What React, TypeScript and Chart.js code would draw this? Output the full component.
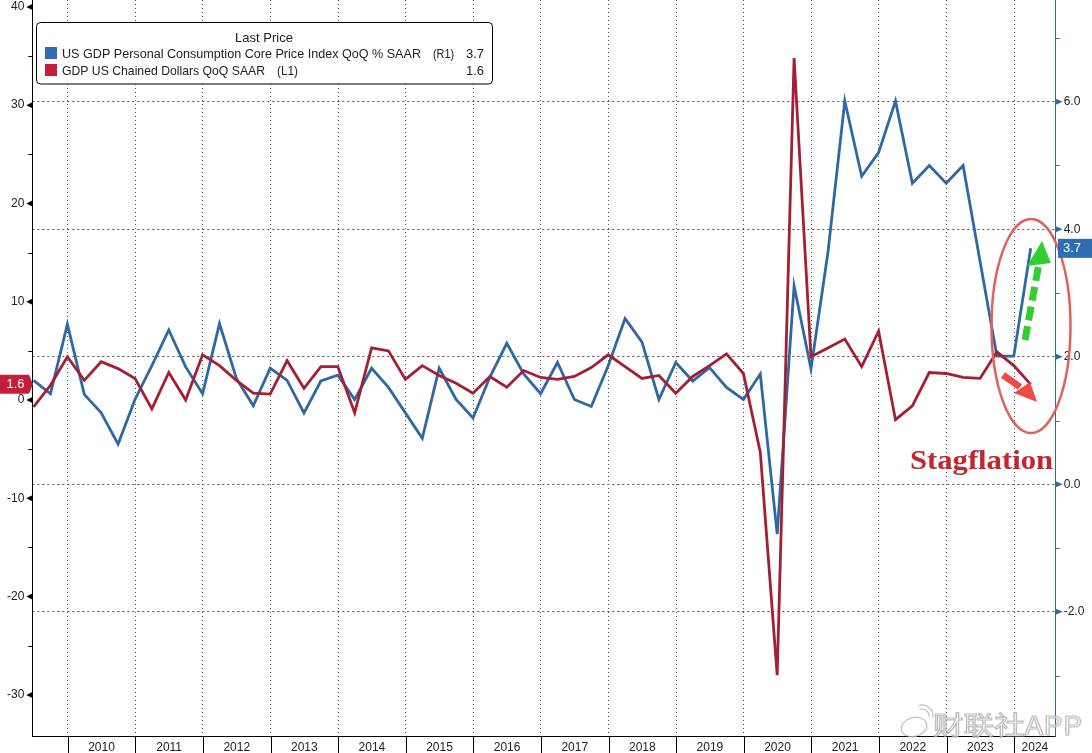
import React, { useEffect, useRef } from "react";
import { Chart, registerables } from "chart.js";

Chart.register(...registerables);

// ---------- DATA ----------
const quarters: string[] = [
  "2009Q2", "2009Q3", "2009Q4",
  "2010Q1", "2010Q2", "2010Q3", "2010Q4",
  "2011Q1", "2011Q2", "2011Q3", "2011Q4",
  "2012Q1", "2012Q2", "2012Q3", "2012Q4",
  "2013Q1", "2013Q2", "2013Q3", "2013Q4",
  "2014Q1", "2014Q2", "2014Q3", "2014Q4",
  "2015Q1", "2015Q2", "2015Q3", "2015Q4",
  "2016Q1", "2016Q2", "2016Q3", "2016Q4",
  "2017Q1", "2017Q2", "2017Q3", "2017Q4",
  "2018Q1", "2018Q2", "2018Q3", "2018Q4",
  "2019Q1", "2019Q2", "2019Q3", "2019Q4",
  "2020Q1", "2020Q2", "2020Q3", "2020Q4",
  "2021Q1", "2021Q2", "2021Q3", "2021Q4",
  "2022Q1", "2022Q2", "2022Q3", "2022Q4",
  "2023Q1", "2023Q2", "2023Q3", "2023Q4",
  "2024Q1",
];

// GDP US Chained Dollars QoQ SAAR (L1, red)
const gdpQoQ: number[] = [
  -0.7, 1.5, 4.4,
  2.0, 3.9, 3.2, 2.2,
  -0.9, 2.8, 0.0, 4.6,
  3.5, 2.0, 0.7, 0.6,
  4.0, 1.2, 3.4, 3.4,
  -1.3, 5.3, 5.0, 2.1,
  3.5, 2.5, 1.7, 0.7,
  2.4, 1.3, 3.0, 2.3,
  2.1, 2.4, 3.3, 4.6,
  3.4, 2.2, 2.5, 0.7,
  2.4, 3.5, 4.7, 2.7,
  -5.3, -28.0, 34.8, 4.4,
  5.3, 6.2, 3.4, 7.0,
  -2.0, -0.6, 2.8, 2.7,
  2.3, 2.2, 4.9, 3.5,
  1.6,
];

// US GDP Personal Consumption Core Price Index QoQ % SAAR (R1, blue)
const corePceQoQ: number[] = [
  1.63, 1.42, 2.51,
  1.41, 1.12, 0.63, 1.33,
  1.86, 2.42, 1.84, 1.42,
  2.52, 1.66, 1.23, 1.82,
  1.63, 1.12, 1.62, 1.71,
  1.33, 1.82, 1.52, 1.12,
  0.72, 1.82, 1.33, 1.04,
  1.68, 2.21, 1.73, 1.42,
  1.91, 1.33, 1.22, 1.86,
  2.6, 2.23, 1.33, 1.91,
  1.62, 1.83, 1.52, 1.33,
  1.73, -0.78, 3.11, 1.81,
  3.63, 6.01, 4.83, 5.2,
  6.01, 4.72, 5.0, 4.72,
  5.0, 3.5, 2.01, 2.01,
  3.7,
];

const leftTicks: number[] = [-30, -20, -10, 0, 10, 20, 30, 40];
const leftMinorTicks: number[] = [-25, -15, -5, 5, 15, 25, 35];
const rightTicks: number[] = [-2, 0, 2, 4, 6];
const rightMinorTicks: number[] = [-3, -1, 1, 3, 5, 7];
const yearLabels: string[] = [
  "2010", "2011", "2012", "2013", "2014", "2015", "2016", "2017",
  "2018", "2019", "2020", "2021", "2022", "2023", "2024",
];

const seriesNames = {
  pce: "US GDP Personal Consumption Core Price Index QoQ % SAAR",
  gdp: "GDP US Chained Dollars QoQ SAAR",
};
const lastPce = "3.7";
const lastGdp = "1.6";

// ---------- STYLE / LAYOUT ----------
const W = 1092;
const H = 753;
const X_MIN = 2009.476;
const X_MAX = 2024.615;
const L_MIN = -34.18;
const L_MAX = 40.7;
const R_MIN = -3.947;
const R_MAX = 7.594;
const BLUE = "#2f68a2";
const RED = "#a31f34";
const BOX_BLUE = "#2f6db3";
const BOX_RED = "#c41e3a";
const FONT = "'Liberation Sans', Arial, sans-serif";

const toYear = (q: string) => Number(q.slice(0, 4)) + Number(q.slice(5)) * 0.25 - 0.005;

const yearBoundaries = yearLabels.map((y) => Number(y));
const yearLabelPos = yearBoundaries.map((y) => Math.min(y + 0.5, (y + X_MAX) / 2));

function fitText(ctx: CanvasRenderingContext2D, text: string, x: number, y: number, width: number, align: CanvasTextAlign) {
  const w = ctx.measureText(text).width || 1;
  ctx.save();
  ctx.translate(x, y);
  ctx.scale(width / w, 1);
  ctx.textAlign = align;
  ctx.fillText(text, 0, 0);
  ctx.restore();
}

function arrowHead(ctx: CanvasRenderingContext2D, tip: number[], b1: number[], b2: number[]) {
  ctx.beginPath();
  ctx.moveTo(tip[0], tip[1]);
  ctx.lineTo(b1[0], b1[1]);
  ctx.lineTo(b2[0], b2[1]);
  ctx.closePath();
  ctx.fill();
}

const overlayPlugin = {
  id: "overlay",
  afterDraw(chart: any) {
    const ctx: CanvasRenderingContext2D = chart.ctx;
    const xs = chart.scales.x;
    const yl = chart.scales.yL;
    const yr = chart.scales.yR;
    const area = chart.chartArea;
    ctx.save();

    // year separators below the x axis
    ctx.strokeStyle = "#000";
    ctx.lineWidth = 1;
    yearBoundaries.forEach((v) => {
      const px = Math.round(xs.getPixelForValue(v)) + 0.5;
      ctx.beginPath();
      ctx.moveTo(px, area.bottom);
      ctx.lineTo(px, H);
      ctx.stroke();
    });

    // left axis tick marks
    ctx.fillStyle = "#000";
    leftTicks.forEach((v) => {
      const py = yl.getPixelForValue(v);
      arrowHead(ctx, [area.left - 6, py], [area.left, py - 3], [area.left, py + 3]);
    });
    leftMinorTicks.forEach((v) => {
      const py = Math.round(yl.getPixelForValue(v)) + 0.5;
      ctx.beginPath();
      ctx.moveTo(area.left - 4, py);
      ctx.lineTo(area.left, py);
      ctx.stroke();
    });

    // right axis tick marks
    ctx.fillStyle = BLUE;
    ctx.strokeStyle = BLUE;
    rightTicks.forEach((v) => {
      const py = yr.getPixelForValue(v);
      arrowHead(ctx, [area.right + 7, py], [area.right, py - 3], [area.right, py + 3]);
    });
    rightMinorTicks.forEach((v) => {
      const py = Math.round(yr.getPixelForValue(v)) + 0.5;
      if (py < 2) return;
      ctx.beginPath();
      ctx.moveTo(area.right, py);
      ctx.lineTo(area.right + 4, py);
      ctx.stroke();
    });

    // annotation: ellipse
    ctx.strokeStyle = "#e0625e";
    ctx.lineWidth = 2.5;
    ctx.beginPath();
    ctx.ellipse(1031, 326, 39.5, 107, 0, 0, Math.PI * 2);
    ctx.stroke();

    // green dashed arrow (up)
    ctx.strokeStyle = "#33cc33";
    ctx.fillStyle = "#33cc33";
    ctx.lineWidth = 7;
    ctx.setLineDash([14, 6]);
    ctx.beginPath();
    ctx.moveTo(1025, 340);
    ctx.lineTo(1038.5, 266);
    ctx.stroke();
    ctx.setLineDash([]);
    arrowHead(ctx, [1042, 241], [1027, 266], [1051, 263]);

    // red arrow (down)
    ctx.strokeStyle = "#ee4a46";
    ctx.fillStyle = "#ee4a46";
    ctx.lineWidth = 7;
    ctx.beginPath();
    ctx.moveTo(1003, 375);
    ctx.lineTo(1020, 387);
    ctx.stroke();
    arrowHead(ctx, [1037, 402], [1014, 393], [1030, 382]);

    // Stagflation text
    ctx.fillStyle = "#c1272d";
    ctx.font = "bold 28px 'Liberation Serif', 'DejaVu Serif', serif";
    ctx.textBaseline = "alphabetic";
    fitText(ctx, "Stagflation", 910, 468.5, 143, "left");

    // last value boxes
    const gy = yl.getPixelForValue(Number(lastGdp));
    ctx.fillStyle = BOX_RED;
    ctx.beginPath();
    ctx.moveTo(0, gy - 9.5);
    ctx.lineTo(29, gy - 9.5);
    ctx.lineTo(33, gy);
    ctx.lineTo(29, gy + 9.5);
    ctx.lineTo(0, gy + 9.5);
    ctx.closePath();
    ctx.fill();
    ctx.fillStyle = "#fff";
    ctx.font = `13px ${FONT}`;
    ctx.textBaseline = "middle";
    ctx.textAlign = "center";
    ctx.fillText(lastGdp, 15.5, gy + 0.5);

    const by = yr.getPixelForValue(Number(lastPce));
    ctx.fillStyle = BOX_BLUE;
    ctx.fillRect(1058, by - 9.5, W - 1058, 19);
    ctx.fillStyle = "#fff";
    ctx.textAlign = "left";
    ctx.fillText(lastPce, 1063, by + 0.5);

    // legend
    ctx.fillStyle = "#fff";
    ctx.strokeStyle = "#000";
    ctx.lineWidth = 1;
    ctx.beginPath();
    ctx.roundRect(36.5, 22.5, 456, 61.5, 4);
    ctx.fill();
    ctx.stroke();
    ctx.fillStyle = "#222";
    ctx.font = `13px ${FONT}`;
    ctx.textBaseline = "middle";
    ctx.textAlign = "center";
    ctx.fillText("Last Price", 264, 38);
    ctx.fillStyle = BOX_BLUE;
    ctx.fillRect(45, 47, 12, 12);
    ctx.fillStyle = BOX_RED;
    ctx.fillRect(45, 64, 12, 12);
    ctx.fillStyle = "#222";
    fitText(ctx, seriesNames.pce, 62, 54, 359, "left");
    fitText(ctx, "(R1)", 433, 54, 21, "left");
    ctx.textAlign = "right";
    ctx.fillText(lastPce, 484, 54);
    fitText(ctx, seriesNames.gdp, 62, 71, 203, "left");
    fitText(ctx, "(L1)", 277, 71, 21, "left");
    ctx.textAlign = "right";
    ctx.fillText(lastGdp, 484, 71);

    // watermark
    ctx.strokeStyle = "rgba(170,170,170,0.75)";
    ctx.fillStyle = "rgba(255,255,255,0.55)";
    ctx.lineWidth = 1.2;
    ctx.beginPath();
    ctx.ellipse(914, 727, 13, 9.5, -0.25, 0, Math.PI * 2);
    ctx.fill();
    ctx.stroke();
    ctx.beginPath();
    ctx.arc(922, 716, 7, -Math.PI * 0.6, Math.PI * 0.05);
    ctx.stroke();
    ctx.beginPath();
    ctx.arc(922, 716, 11, -Math.PI * 0.6, Math.PI * 0.05);
    ctx.stroke();
    ctx.font = `26px 'Noto Sans CJK SC', sans-serif`;
    ctx.textBaseline = "alphabetic";
    const wmText = "财联社APP";
    const wmW = ctx.measureText(wmText).width || 1;
    ctx.save();
    ctx.translate(933, 735);
    ctx.scale(149 / wmW, 1);
    ctx.textAlign = "left";
    ctx.fillText(wmText, 0, 0);
    ctx.strokeText(wmText, 0, 0);
    ctx.restore();

    ctx.restore();
  },
};

export default function App() {
  const ref = useRef<HTMLCanvasElement | null>(null);

  useEffect(() => {
    if (!ref.current) return;
    Chart.defaults.font.family = FONT;
    const xVals = quarters.map(toYear);
    const chart = new Chart(ref.current, {
      type: "line",
      data: {
        datasets: [
          {
            label: seriesNames.gdp,
            data: gdpQoQ.map((v, i) => ({ x: xVals[i], y: v })),
            yAxisID: "yL",
            borderColor: RED,
            borderWidth: 2.8,
            pointRadius: 0,
            tension: 0,
            order: 0,
          },
          {
            label: seriesNames.pce,
            data: corePceQoQ.map((v, i) => ({ x: xVals[i], y: v })),
            yAxisID: "yR",
            borderColor: BLUE,
            borderWidth: 2.8,
            pointRadius: 0,
            tension: 0,
            order: 1,
          },
        ],
      },
      options: {
        responsive: false,
        animation: false,
        events: [],
        layout: { padding: 0 },
        plugins: {
          legend: { display: false },
          tooltip: { enabled: false },
          title: { display: false },
        },
        scales: {
          x: {
            type: "linear",
            position: "bottom",
            min: X_MIN,
            max: X_MAX,
            afterBuildTicks: (s: any) => {
              s.ticks = [...yearBoundaries, ...yearLabelPos]
                .sort((a, b) => a - b)
                .map((v) => ({ value: v }));
            },
            afterFit: (s: any) => {
              s.height = 17;
              s.paddingLeft = 0;
              s.paddingRight = 0;
            },
            grid: {
              display: true,
              drawOnChartArea: true,
              drawTicks: false,
              lineWidth: 1,
              color: (c: any) =>
                c.tick && Number.isInteger(c.tick.value) ? "#555" : "rgba(0,0,0,0)",
            },
            border: { display: true, color: "#000", width: 1, dash: [1, 3] },
            ticks: {
              autoSkip: false,
              maxRotation: 0,
              minRotation: 0,
              padding: 4,
              color: "#222",
              font: { size: 12 },
              callback: (v: any) =>
                Number.isInteger(v) ? "" : String(Math.floor(Number(v))),
            },
          },
          yL: {
            type: "linear",
            position: "left",
            min: L_MIN,
            max: L_MAX,
            afterBuildTicks: (s: any) => {
              s.ticks = leftTicks.map((v) => ({ value: v }));
            },
            afterFit: (s: any) => {
              s.width = 32.3;
              s.paddingTop = 0;
              s.paddingBottom = 0;
            },
            grid: { display: true, drawOnChartArea: false, drawTicks: false },
            border: { display: true, color: "#000", width: 1 },
            ticks: {
              padding: 8,
              color: "#222",
              font: { size: 12 },
              callback: (v: any) => String(v),
            },
          },
          yR: {
            type: "linear",
            position: "right",
            min: R_MIN,
            max: R_MAX,
            afterBuildTicks: (s: any) => {
              s.ticks = rightTicks.map((v) => ({ value: v }));
            },
            afterFit: (s: any) => {
              s.width = W - 1055.7;
              s.paddingTop = 0;
              s.paddingBottom = 0;
            },
            grid: {
              display: true,
              drawOnChartArea: true,
              drawTicks: false,
              color: "#555",
              lineWidth: 1,
            },
            border: { display: true, color: BLUE, width: 1, dash: [2, 3] },
            ticks: {
              padding: 8,
              color: "#222",
              font: { size: 12 },
              callback: (v: any) => Number(v).toFixed(1),
            },
          },
        },
      } as any,
      plugins: [overlayPlugin],
    });
    return () => chart.destroy();
  }, []);

  return (
    <div
      style={{
        position: "absolute",
        left: 0,
        top: 0,
        width: W,
        height: H,
        background: "#fff",
      }}
    >
      <canvas ref={ref} width={W} height={H} style={{ display: "block", width: W, height: H }} />
    </div>
  );
}
